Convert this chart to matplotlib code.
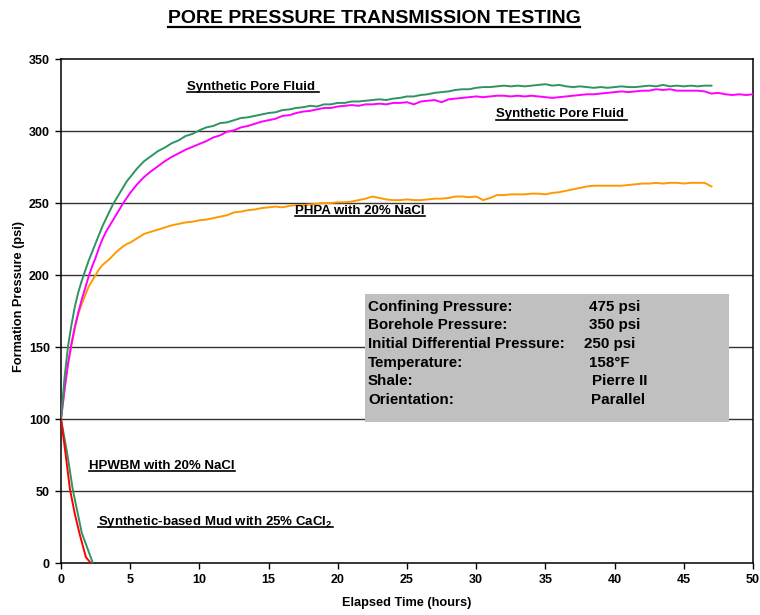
import numpy as np
import matplotlib
matplotlib.use("Agg")
import matplotlib.pyplot as plt
from matplotlib.lines import Line2D
from matplotlib.patches import Rectangle

plt.rcParams['font.family'] = ['Liberation Sans', 'DejaVu Sans']
plt.rcParams['font.weight'] = 'bold'
plt.rcParams['mathtext.fontset'] = 'custom'
plt.rcParams['mathtext.rm'] = 'Liberation Sans:bold'
plt.rcParams['mathtext.bf'] = 'Liberation Sans:bold'

# ---- data (elapsed time in hours, formation pressure in psi) ----
time_early = [0, 0.25, 0.5, 0.75, 1.0, 1.25, 1.5, 1.75, 2.0, 2.25, 2.5,
              2.75, 3.0, 3.25, 3.5, 3.75, 4.0, 4.25, 4.5, 4.75, 5.0]

spf_a_early = [100, 128, 150, 165, 178, 188, 196, 203, 210, 216, 222,
               228, 234, 239, 244, 249, 253, 257, 261, 265, 268]
spf_a_late = [274, 279, 282.5, 286, 288.5, 291.5, 293.5, 296.5, 298, 300.5,
              302.5, 303.5, 305.5, 306, 307.5, 309, 309.5, 310.5, 311.5, 312.5,
              313, 314.5, 315, 316, 316.5, 317.5, 317, 318.5, 318.5, 319.5,
              319.5, 320.5, 320.5, 321, 321.5, 322, 321.5, 322.5, 323, 324,
              324, 325, 325.5, 326.5, 327, 327.5, 328.5, 329, 329, 330,
              330.5, 330.5, 331, 331.5, 331, 331.5, 331, 331.5, 332, 332.5,
              331.5, 332, 331, 330.5, 331, 330.5, 330, 330.5, 330, 330.5,
              331, 330.5, 330.5, 331, 331.5, 331, 332, 331, 331.5, 331,
              331.5, 331, 331.5, 331.5]

spf_b_early = [100, 120, 138, 152, 164, 174, 183, 191, 199, 206, 212,
               219, 225, 230, 234, 238, 242, 246, 250, 253.5, 257]
spf_b_late = [263, 268, 272, 275.5, 279, 282, 284.5, 287, 289, 291,
              293, 295.5, 297, 299.5, 300.5, 302.5, 303.5, 305, 306.5, 307.5,
              308.5, 310.5, 311, 312.5, 313.5, 314, 315, 316, 316, 317,
              317.5, 318, 317.5, 318.5, 318.5, 319, 318.5, 319.5, 319.5, 320,
              318.5, 320.5, 321, 321.5, 320, 322, 322.5, 323, 323.5, 324,
              323.5, 324, 324.5, 324.5, 324, 324.5, 324, 324.5, 324, 323.5,
              323, 323.5, 324, 324.5, 325, 325.5, 325.5, 326, 326.5, 327,
              327.5, 327, 327.5, 328, 328, 329, 328.5, 329, 328, 328,
              328, 328, 327.5, 326, 326.5, 325.5, 325, 325.5, 325, 325.5]

phpa_early = [100, 120, 138, 151, 163, 173, 180, 186, 192, 196, 200,
              204, 207, 209, 211, 213.5, 216, 218, 220, 221.5, 222.5]
phpa_late = [225.5, 228.5, 230, 231.5, 233, 234.5, 235.5, 236.5, 237, 238,
             238.5, 239.5, 240.5, 241.5, 243.5, 244, 245, 245.5, 246.5, 247,
             247.5, 247, 248, 248.5, 248.5, 249, 249.5, 250, 250, 250.5,
             250.5, 251, 252, 253, 254.5, 253.5, 252.5, 252, 252, 252.5,
             252, 252, 252.5, 253, 253, 253.5, 254.5, 254.5, 254, 254.5,
             252, 253.5, 255.5, 255.5, 256, 256, 256, 256.5, 256.5, 256,
             257, 257.5, 258.5, 259.5, 260.5, 261.5, 262, 262, 262, 262,
             262, 262.5, 263, 263.5, 263.5, 264, 263.5, 264, 264, 263.5,
             264, 264, 264, 261.5]

hpwbm_time = [0, 0.3, 0.65, 1.0, 1.35, 1.8, 2.15]
hpwbm_psi = [100, 78, 51, 34, 20, 4, 0]

sbm_time = [0, 0.45, 0.85, 1.5, 2.3]
sbm_psi = [100, 76, 51, 21, 0]

x_ticks = [0, 5, 10, 15, 20, 25, 30, 35, 40, 45, 50]
y_ticks = [0, 50, 100, 150, 200, 250, 300, 350]

info_names = ["Confining Pressure:", "Borehole Pressure:",
              "Initial Differential Pressure:", "Temperature:", "Shale:",
              "Orientation:"]
info_values = ["475 psi", "350 psi", "250 psi", "158°F", "Pierre II", "Parallel"]

t_spf_a = np.concatenate([time_early, np.arange(5.5, 47.01, 0.5)])
t_spf_b = np.concatenate([time_early, np.arange(5.5, 50.01, 0.5)])
t_phpa = np.concatenate([time_early, np.arange(5.5, 47.01, 0.5)])
p_spf_a = np.array(spf_a_early + spf_a_late)
p_spf_b = np.array(spf_b_early + spf_b_late)
p_phpa = np.array(phpa_early + phpa_late)

# ---- figure ----
W, H = 760, 615
fig = plt.figure(figsize=(W / 100, H / 100), dpi=100)
ax = fig.add_axes([61 / W, 1 - 563 / H, (753 - 61) / W, (563 - 59) / H])

ax.set_xlim(0, 50)
ax.set_ylim(0, 350)
ax.set_xticks(x_ticks)
ax.set_yticks(y_ticks)
ax.tick_params(direction='out', length=4, width=1, labelsize=9, pad=4)
for lab in ax.get_xticklabels() + ax.get_yticklabels():
    lab.set_fontweight('bold')
for s in ax.spines.values():
    s.set_linewidth(1.1)
    s.set_color('black')

for v in y_ticks[1:-1]:
    ax.axhline(v, color='#333333', lw=1.0, zorder=1)

ax.set_xlabel("Elapsed Time (hours)", fontsize=9.2, fontweight='bold', labelpad=8)
ax.set_ylabel("Formation Pressure (psi)", fontsize=9.2, fontweight='bold')
ax.yaxis.set_label_coords((25 - 61) / 692, (563 - 296) / 504)

ax.plot(t_phpa, p_phpa, color='#FF9900', lw=1.4, zorder=3)
ax.plot(t_spf_b, p_spf_b, color='#FF00FF', lw=1.4, zorder=3)
ax.plot(t_spf_a, p_spf_a, color='#2E9461', lw=1.4, zorder=4)
ax.plot(sbm_time, sbm_psi, color='#2E9461', lw=1.4, zorder=3)
ax.plot(hpwbm_time, hpwbm_psi, color='#FF0000', lw=1.4, zorder=4)

# info box
ax.add_patch(Rectangle((22.0, 97.9), 26.3, 88.9, facecolor='#C0C0C0',
                       edgecolor='none', zorder=2))
for i, n in enumerate(info_names):
    yb = 1 - (310.7 + 18.67 * i) / H
    fig.text(368 / W, yb, n, fontsize=10.9, fontweight='bold', va='baseline')
vx = [589, 589, 584, 589, 592, 591]
for i, v in enumerate(info_values):
    yb = 1 - (310.7 + 18.67 * i) / H
    fig.text(vx[i] / W, yb, v, fontsize=10.9, fontweight='bold', va='baseline')

# curve labels (underlined)
labels = [
    ("Synthetic Pore Fluid ", 9.1, 328.5),
    ("Synthetic Pore Fluid ", 31.4, 309.5),
    ("PHPA with 20% NaCl", 16.9, 242.4),
    ("HPWBM with 20% NaCl", 2.05, 65.3),
    ("Synthetic-based Mud with 25% CaCl$_\\mathrm{2}$", 2.7, 26.4),
]
label_artists = []
for txt, x, y in labels:
    label_artists.append(ax.text(x, y, txt, fontsize=9.5, fontweight='bold',
                                 va='baseline', ha='left', zorder=5))

title = fig.text(374 / W, 1 - 23.3 / H, "PORE PRESSURE TRANSMISSION TESTING",
                 fontsize=14, fontweight='bold', ha='center', va='baseline')

fig.canvas.draw()
renderer = fig.canvas.get_renderer()


def underline(t, gap, lw):
    bb = t.get_window_extent(renderer)
    _, yb = t.get_transform().transform(t.get_position())
    y = (yb - gap) / H
    fig.add_artist(Line2D([bb.x0 / W, bb.x1 / W], [y, y],
                          transform=fig.transFigure, color='black', lw=lw))


for t in label_artists:
    underline(t, 2.5, 1.2)
underline(title, 3.3, 1.6)

fig.savefig("out.png", dpi=100)
